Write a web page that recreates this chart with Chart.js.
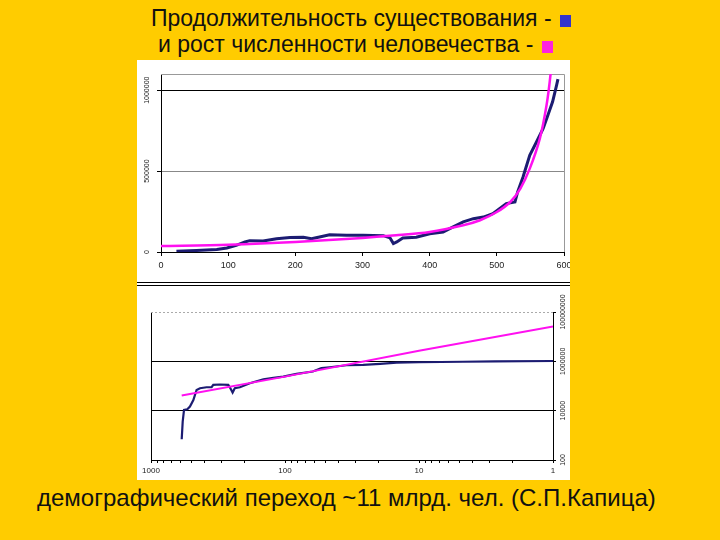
<!DOCTYPE html>
<html>
<head>
<meta charset="utf-8">
<script src="https://cdn.jsdelivr.net/npm/chart.js@4/dist/chart.umd.min.js"></script>
<style>
  html, body { margin: 0; padding: 0; }
  body { width: 720px; height: 540px; background: #ffcc00; position: relative; overflow: hidden;
         font-family: "Liberation Sans", Arial, sans-serif; color: #111; }
  .title { position: absolute; font-size: 23px; line-height: 26px; white-space: nowrap; }
  .sq { display: inline-block; width: 11px; height: 12px; vertical-align: -1px; margin-left: 2px; }
  #panel { position: absolute; left: 137px; top: 60px; width: 433px; height: 420px; background: #fff; }
  .sep { position: absolute; left: 137px; width: 433px; height: 1px; background: #000; }
  canvas { position: absolute; left: 137px; }
  #note { position: absolute; left: 37px; top: 484px; font-size: 24px; line-height: 28px; white-space: nowrap; }
</style>
</head>
<body>
<div class="title" style="left:151px; top:5px;">Продолжительность существования - <span class="sq" style="background:#3333cc"></span></div>
<div class="title" style="left:158px; top:31px;">и рост численности человечества - <span class="sq" style="background:#ff22dd"></span></div>
<div id="panel"></div>
<div class="sep" style="top:282px"></div>
<div class="sep" style="top:285px"></div>
<canvas id="topChart" width="433" height="222" style="top:60px"></canvas>
<canvas id="logChart" width="433" height="194" style="top:286px"></canvas>
<div id="note">демографический переход ~11 млрд. чел. (С.П.Капица)</div>

<script>
// верхний график (линейные оси)
const durX = [23, 53, 83, 98, 112, 125, 132, 152, 172, 192, 212, 224, 236, 251, 276, 301, 331, 341, 346, 351, 360, 380, 400, 420, 435, 450, 465, 480, 494, 504, 514, 527, 531, 539, 549, 559, 569, 576, 583, 589, 591];
const durY = [4000, 10000, 16000, 25000, 41000, 62000, 70000, 68000, 82000, 89000, 91000, 82000, 93000, 107000, 103000, 103000, 101000, 87000, 52000, 62000, 87000, 91000, 113000, 124000, 155000, 186000, 206000, 216000, 237000, 268000, 299000, 309000, 371000, 464000, 598000, 680000, 763000, 845000, 928000, 1031000, 1068000];
const growX = [0, 100, 200, 300, 350, 400, 450, 475, 500, 520, 535, 549, 564, 574, 580, 584];
const growY = [37000, 45000, 62000, 87000, 103000, 124000, 165000, 196000, 247000, 309000, 392000, 515000, 701000, 907000, 1100000, 1300000];
const topYTicks = [0, 500000, 1000000];

// нижний график (логарифмические оси)
const logDurX = [590, 580, 567, 536, 512, 483, 457, 431, 385, 353, 343, 306, 265, 258, 246, 237, 217, 183, 145, 122, 103, 82, 62, 53.5, 46.4, 34.8, 26.1, 19.5, 14.7, 10, 4.7, 2.7, 1];
const logDurY = [690, 3600, 10700, 11400, 14600, 27000, 69000, 81000, 89000, 89000, 111000, 115000, 111000, 89000, 54000, 81000, 89000, 129000, 188000, 213000, 241000, 310000, 386000, 527000, 576000, 693000, 720000, 790000, 890000, 920000, 960000, 1000000, 1030000];
const logGrowX = [590, 100, 10, 1];
const logGrowY = [41000, 240000, 2700000, 26000000];
const logXLabels = [1000, 100, 10, 1];
const logYTicks = [100, 10000, 1000000, 100000000];

const navy = '#1c1c72';
const magenta = '#ff10f0';
const tickFont = { family: 'Liberation Sans', size: 9 };

const pts = (xs, ys) => xs.map((x, i) => ({ x: x, y: ys[i] }));

// рамка вокруг области построения (верх и правый край)
const frame = {
    id: 'frame',
    beforeDatasetsDraw(chart) {
        const a = chart.chartArea, ctx = chart.ctx;
        ctx.save();
        ctx.strokeStyle = '#999';
        ctx.lineWidth = 1;
        ctx.beginPath();
        ctx.moveTo(a.left, a.top + 0.5);
        ctx.lineTo(a.right + 0.5, a.top + 0.5);
        ctx.lineTo(a.right + 0.5, a.bottom);
        ctx.stroke();
        ctx.restore();
    }
};

Chart.defaults.font.family = 'Liberation Sans';
Chart.defaults.color = '#222';

new Chart(document.getElementById('topChart'), {
    type: 'scatter',
    data: {
        datasets: [
            { data: pts(growX, growY), showLine: true, borderColor: magenta, borderWidth: 2.5, pointRadius: 0, tension: 0.3 },
            { data: pts(durX, durY), showLine: true, borderColor: navy, borderWidth: 3, pointRadius: 0 }
        ]
    },
    options: {
        responsive: false,
        animation: false,
        devicePixelRatio: 1,
        layout: { padding: { left: 0, right: 6, top: 14, bottom: 0 } },
        plugins: { legend: { display: false }, tooltip: { enabled: false } },
        scales: {
            x: {
                type: 'linear', min: 0, max: 600,
                ticks: { stepSize: 100, font: tickFont, padding: 4, maxRotation: 0 },
                grid: { drawOnChartArea: false, tickLength: 4, tickColor: '#000' },
                border: { color: '#000' },
                afterFit(s) { s.height = 30; s.paddingLeft = 0; s.paddingRight = 0; }
            },
            y: {
                type: 'linear', min: 0, max: 1100000,
                afterBuildTicks(s) { s.ticks = topYTicks.map(v => ({ value: v })); },
                ticks: { font: { size: 7 }, minRotation: 90, crossAlign: 'center', padding: -4,
                         callback: v => String(v) },
                grid: {
                    tickLength: 4, tickColor: '#000',
                    color: c => c.tick && c.tick.value === 1000000 ? '#000' : (c.tick && c.tick.value === 500000 ? '#888' : 'rgba(0,0,0,0)')
                },
                border: { color: '#000' },
                afterFit(s) { s.width = 24; s.paddingTop = 0; s.paddingBottom = 0; }
            }
        }
    },
    plugins: [frame]
});

new Chart(document.getElementById('logChart'), {
    type: 'scatter',
    data: {
        datasets: [
            { data: pts(logGrowX, logGrowY), showLine: true, borderColor: magenta, borderWidth: 2, pointRadius: 0 },
            { data: pts(logDurX, logDurY), showLine: true, borderColor: navy, borderWidth: 2.2, pointRadius: 0 }
        ]
    },
    options: {
        responsive: false,
        animation: false,
        devicePixelRatio: 1,
        layout: { padding: { left: 14, right: 0, top: 26, bottom: 0 } },
        plugins: { legend: { display: false }, tooltip: { enabled: false } },
        scales: {
            x: {
                type: 'logarithmic', min: 1, max: 1000, reverse: true,
                afterBuildTicks(s) {
                    const t = [];
                    [1, 10, 100].forEach(d => { for (let k = 1; k < 10; k++) t.push({ value: k * d }); });
                    t.push({ value: 1000 });
                    s.ticks = t;
                },
                ticks: { font: { size: 8 }, padding: 3, maxRotation: 0, autoSkip: false,
                         callback: v => logXLabels.includes(v) ? String(v) : '' },
                grid: { drawOnChartArea: false, tickLength: 3, tickColor: '#000' },
                border: { color: '#000' },
                afterFit(s) { s.height = 20; s.paddingLeft = 0; s.paddingRight = 0; }
            },
            y: {
                type: 'logarithmic', position: 'right', min: 100, max: 100000000,
                afterBuildTicks(s) { s.ticks = logYTicks.map(v => ({ value: v })); },
                ticks: { font: { size: 7 }, minRotation: 90, crossAlign: 'center', padding: -10,
                         callback: v => String(v) },
                grid: {
                    tickLength: 3, tickColor: '#000',
                    color: c => c.tick && (c.tick.value === 10000 || c.tick.value === 1000000) ? '#000' : 'rgba(0,0,0,0)'
                },
                border: { color: '#000' },
                afterFit(s) { s.width = 17; s.paddingTop = 0; s.paddingBottom = 0; }
            }
        }
    },
    plugins: [{
        id: 'leftEdge',
        beforeDatasetsDraw(chart) {
            const a = chart.chartArea, ctx = chart.ctx;
            ctx.save();
            ctx.strokeStyle = '#000';
            ctx.beginPath();
            ctx.moveTo(a.left + 0.5, a.top);
            ctx.lineTo(a.left + 0.5, a.bottom);
            ctx.stroke();
            ctx.strokeStyle = '#aaa';
            ctx.setLineDash([2, 2]);
            ctx.beginPath();
            ctx.moveTo(a.left, a.top + 0.5);
            ctx.lineTo(a.right, a.top + 0.5);
            ctx.stroke();
            ctx.restore();
        }
    }]
});
</script>
</body>
</html>
